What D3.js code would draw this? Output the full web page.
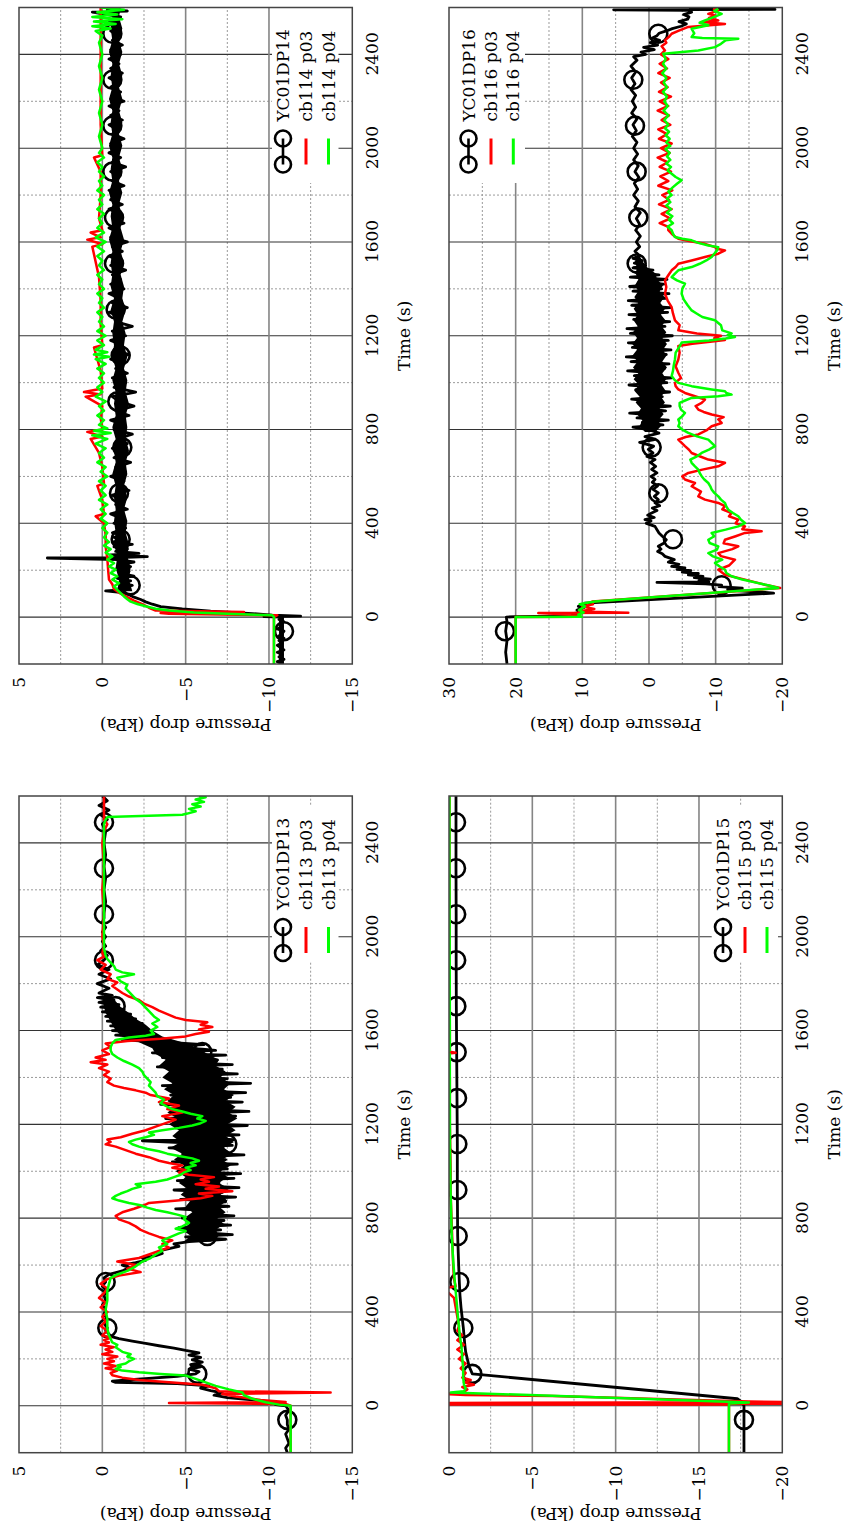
<!DOCTYPE html>
<html>
<head>
<meta charset="utf-8">
<script src="https://cdn.jsdelivr.net/npm/d3@7"></script>
<style>
html, body { margin: 0; padding: 0; background: #fff; }
svg { display: block; }
text { font-family: "DejaVu Serif", serif; font-size: 17px; fill: #000; }
</style>
</head>
<body>
<svg id="fig" width="847" height="1530"></svg>
<script>
// ---------- shared axis values ----------
const timeDomain = [-200, 2600];
const timeTicks = [0, 400, 800, 1200, 1600, 2000, 2400];
const timeMinor = [200, 600, 1000, 1400, 1800, 2200];

const ticksA = [-15, -10, -5, 0, 5];
const minorA = [-12.5, -7.5, -2.5, 2.5];
const ticksB = [-20, -15, -10, -5, 0];
const minorB = [-17.5, -12.5, -7.5, -2.5];
const ticksD = [-20, -10, 0, 10, 20, 30];
const minorD = [-15, -5, 5, 15, 25];

// ---------- YC01DP13 / cb113 ----------
const dp13Black = [
[-200,-11.1],[-180,-11.0],[-160,-11.2],[-140,-11.1],[-120,-11.0],[-100,-11.2],[-80,-11.1],[-60,-11.1],[-40,-11.0],[-20,-11.2],[0,-11.0],
[5,-10.4],[15,-10.2],[25,-9.0],[35,-7.5],[45,-6.7],[55,-7.2],[65,-6.5],[75,-5.9],[85,-6.4],[95,-4.5],[100,-0.8],[105,-0.6],[110,-1.5],
[118,-3.0],[126,-4.5],[136,-5.6],[146,-5.8],[156,-5.2],[166,-5.9],[176,-5.3],[186,-6.0],[196,-5.4],[206,-5.9],[216,-5.2],[226,-5.8],
[236,-5.0],[246,-4.3],[256,-3.4],[266,-2.6],[276,-1.8],[286,-1.0],[296,-0.5],[306,-0.4],[320,-0.2],[332,-0.3],[350,-0.1],[370,-0.3],
[390,-0.1],[410,-0.2],[430,0.0],[450,-0.2],[470,-0.1],[490,-0.3],[510,0.0],[528,-0.2],[545,-0.1],[560,-0.4],[575,-1.2],[590,-1.6],
[600,-1.2],[610,-2.0],[620,-2.6],[630,-2.4],[640,-3.2],[650,-3.6],[660,-3.4],[670,-4.0],[680,-4.6],[690,-4.3],
[700,-5.2],[710,-7.4],[720,-5.0],[730,-7.8],[740,-5.6],[750,-7.1],[760,-4.6],[770,-7.7],[780,-5.3],[790,-7.3],[800,-4.8],[810,-7.9],
[820,-5.5],[830,-6.9],[840,-4.4],[850,-7.6],[860,-5.8],[870,-7.4],[880,-4.7],[890,-8.0],[900,-5.1],[910,-7.2],[920,-4.3],[930,-8.2],
[940,-5.6],[950,-7.0],[960,-4.5],[970,-7.9],[980,-5.2],[990,-8.3],[1000,-4.6],[1010,-7.5],[1020,-5.0],[1030,-8.1],[1040,-4.2],[1050,-7.4],
[1060,-5.5],[1070,-8.5],[1080,-4.8],[1090,-7.1],[1100,-4.0],[1110,-7.8],[1120,-5.3],[1130,-2.4],[1135,-7.9],[1145,-4.6],[1155,-8.2],
[1165,-5.1],[1175,-7.3],[1185,-4.4],[1195,-8.7],[1205,-5.0],[1215,-7.6],[1225,-3.8],[1235,-8.0],[1245,-4.9],[1255,-8.8],[1265,-5.4],
[1275,-7.2],[1285,-3.5],[1295,-8.4],[1305,-4.7],[1315,-7.7],[1325,-4.1],[1335,-8.6],[1345,-5.2],[1355,-7.0],[1365,-3.6],[1375,-8.9],
[1385,-4.5],[1395,-7.5],[1405,-3.9],[1415,-8.1],[1425,-4.8],[1435,-7.2],[1445,-3.3],[1455,-7.8],[1465,-4.2],[1475,-6.9],[1485,-3.6],
[1495,-7.4],[1505,-3.0],[1515,-6.8],[1521,-6.0],[1530,-3.4],[1540,-6.1],[1550,-3.8],[1560,-1.2],[1570,-3.3],[1580,-0.8],[1590,-2.9],
[1600,-0.6],[1610,-2.6],[1620,-0.5],[1630,-2.4],[1640,-0.3],[1650,-2.0],[1660,-0.2],[1670,-1.7],[1680,0.0],[1690,-1.3],[1700,0.1],
[1710,-1.0],[1720,0.2],[1730,-0.7],[1740,0.3],[1750,-0.6],[1760,0.2],[1780,-0.4],[1800,0.3],[1820,-0.5],[1840,0.2],[1860,-0.4],
[1880,0.3],[1900,-0.1],[1920,-0.3],[1940,0.1],[1960,-0.2],[1980,0.0],[2000,-0.2],[2020,0.0],[2040,-0.2],[2060,0.0],[2080,-0.1],
[2100,-0.1],[2150,-0.2],[2200,-0.1],[2250,-0.2],[2300,-0.1],[2350,-0.2],[2400,-0.1],[2450,-0.2],[2480,0.0],[2500,-0.3],[2520,0.1],
[2540,-0.4],[2560,0.2],[2580,-0.3],[2600,0.0]
];
// dense core of the fluctuating YC01DP13 signal: [time, upper, lower]
const dp13BlackBand = [[
[700,-4.9,-6.5],[725,-5.3,-7.0],[750,-4.8,-6.8],[775,-5.2,-7.3],[800,-4.9,-6.9],[825,-5.4,-7.4],[850,-5.0,-7.0],[875,-5.3,-7.5],
[900,-4.7,-7.1],[925,-5.1,-7.6],[950,-4.6,-7.0],[975,-5.0,-7.5],[1000,-4.4,-7.1],[1025,-4.9,-7.7],[1050,-4.3,-7.2],[1075,-4.8,-7.8],
[1100,-4.1,-7.3],[1125,-4.7,-7.9],[1150,-4.2,-7.4],[1175,-4.6,-8.0],[1200,-4.0,-7.5],[1225,-4.5,-8.1],[1250,-3.9,-7.6],[1275,-4.4,-8.0],
[1300,-3.9,-7.4],[1325,-4.3,-7.9],[1350,-3.7,-7.3],[1375,-4.2,-7.7],[1400,-3.6,-7.1],[1425,-4.0,-7.4],[1450,-3.4,-6.8],[1475,-3.8,-7.0],
[1500,-3.2,-6.3],[1525,-3.0,-5.8],[1550,-2.2,-4.8],[1575,-1.2,-3.6],[1600,-0.8,-3.0],[1625,-0.6,-2.6],[1650,-0.4,-2.0],[1675,-0.2,-1.6],
[1700,-0.1,-1.1],[1725,0.0,-0.8],[1750,-0.1,-0.5]
]];
const dp13Marks = [[-60,-11.1],[136,-5.7],[332,-0.3],[528,-0.2],[724,-6.3],[920,-6.4],[1116,-7.5],[1312,-6.2],[1508,-6.0],[1704,-0.8],[1900,-0.1],[2096,-0.1],[2292,-0.1],[2488,-0.1]];
const dp13Red = [
[-200,-11.3],[-100,-11.3],[0,-11.3],[8,-11.0],[12,-4.0],[16,-11.0],[25,-9.5],[40,-8.0],[50,-7.2],[57,-13.7],[62,-7.0],[75,-6.8],
[90,-6.0],[100,-4.0],[110,-2.2],[120,-1.2],[130,-0.6],[140,-0.5],[150,-0.9],[160,-0.2],[170,-0.8],[180,-0.1],[190,-0.7],[200,-0.3],
[210,-0.9],[220,0.0],[230,-0.6],[240,-0.2],[250,-0.7],[260,0.1],[270,-0.4],[280,-0.1],[290,-0.5],[300,0.0],[320,-0.3],[340,0.1],
[360,-0.2],[380,0.0],[400,-0.3],[420,0.1],[440,-0.2],[460,0.2],[480,-0.1],[500,-0.3],[520,0.1],[540,-0.3],[555,-1.0],[570,-2.3],
[585,-1.5],[600,-2.0],[615,-0.9],[630,-2.2],[645,-2.8],[660,-3.4],[675,-4.0],[690,-3.6],[705,-4.2],[720,-3.4],[735,-2.8],[750,-2.3],
[765,-2.0],[780,-1.6],[795,-1.0],[810,-0.8],[825,-1.2],[840,-1.9],[855,-2.5],[865,-2.8],[875,-4.5],[885,-5.9],[895,-6.6],[905,-5.8],
[915,-7.8],[925,-6.2],[935,-7.0],[945,-5.6],[955,-6.4],[965,-5.9],[975,-6.7],[985,-5.2],[995,-4.6],[1005,-5.0],[1015,-4.2],[1025,-4.8],
[1035,-4.0],[1045,-3.4],[1060,-2.8],[1075,-2.0],[1090,-1.4],[1105,-0.8],[1115,-0.2],[1125,-0.5],[1135,-0.3],[1145,-1.1],[1160,-1.8],
[1175,-2.6],[1190,-3.2],[1205,-3.8],[1220,-4.4],[1235,-3.6],[1250,-4.8],[1265,-3.9],[1280,-4.6],[1295,-3.4],[1310,-4.0],[1325,-2.9],
[1335,-2.6],[1345,-2.0],[1355,-1.3],[1365,-0.7],[1380,-0.3],[1395,-0.5],[1410,-0.1],[1425,-0.4],[1440,0.2],[1455,-0.3],[1465,0.7],
[1475,-0.2],[1485,0.4],[1500,-0.4],[1515,0.0],[1530,-0.5],[1545,-0.2],[1555,-1.5],[1565,-3.5],[1575,-5.0],[1585,-5.6],[1595,-6.4],
[1605,-5.8],[1615,-6.6],[1625,-5.9],[1635,-6.3],[1645,-5.0],[1655,-4.4],[1670,-3.9],[1685,-3.4],[1700,-3.0],[1715,-2.5],[1730,-2.2],
[1745,-1.6],[1760,-1.2],[1775,-0.9],[1790,-0.6],[1805,-0.9],[1820,-0.3],[1840,-0.5],[1860,0.1],[1880,-0.2],[1900,0.3],[1915,-0.1],
[1930,0.0],[1960,-0.1],[2000,0.0],[2100,-0.1],[2200,0.0],[2300,-0.1],[2400,0.0],[2450,-0.1],[2480,-0.3],[2500,-0.1],[2550,-0.1],[2600,-0.1]
];
const dp13Green = [
[-200,-11.3],[0,-11.3],[5,-10.6],[15,-9.8],[30,-9.0],[45,-8.5],[57,-8.4],[70,-7.6],[85,-6.8],[100,-6.2],[115,-5.6],[129,-5.0],
[136,-3.5],[143,-2.2],[150,-1.2],[157,-0.8],[165,-1.1],[172,-0.9],[180,-1.4],[190,-1.6],[200,-1.9],[210,-1.5],[220,-1.7],[230,-1.2],
[240,-1.0],[250,-0.8],[260,-0.9],[270,-0.6],[285,-0.5],[300,-0.4],[330,-0.3],[370,-0.3],[410,-0.2],[450,-0.3],[490,-0.3],[520,-0.4],
[545,-0.5],[560,-0.9],[575,-1.5],[590,-1.9],[605,-2.2],[615,-2.4],[630,-2.9],[645,-3.2],[660,-3.6],[675,-3.4],[690,-3.9],[705,-3.6],
[720,-4.1],[735,-4.6],[745,-5.0],[755,-4.4],[765,-4.8],[780,-5.2],[795,-4.9],[805,-5.0],[815,-4.5],[825,-3.9],[835,-3.2],[845,-2.7],
[855,-2.3],[865,-1.6],[875,-1.0],[885,-0.6],[895,-0.8],[905,-1.1],[915,-1.5],[925,-1.8],[935,-2.3],[945,-2.0],[955,-3.2],[965,-3.9],
[975,-4.3],[985,-4.7],[995,-4.9],[1005,-5.3],[1015,-5.0],[1025,-5.6],[1035,-5.3],[1045,-5.8],[1055,-5.4],[1065,-4.6],[1075,-3.9],
[1085,-3.4],[1095,-2.7],[1105,-2.2],[1115,-1.8],[1125,-1.6],[1135,-2.0],[1145,-2.6],[1155,-3.1],[1165,-2.8],[1175,-3.6],[1185,-4.6],
[1195,-5.4],[1205,-5.9],[1215,-6.2],[1225,-5.7],[1235,-6.0],[1245,-5.3],[1255,-4.8],[1265,-4.2],[1275,-3.9],[1290,-3.5],[1305,-3.7],
[1320,-3.3],[1335,-3.2],[1350,-3.0],[1365,-2.8],[1380,-2.9],[1395,-2.7],[1410,-2.5],[1425,-2.4],[1440,-2.2],[1455,-1.8],[1470,-1.3],
[1485,-0.9],[1500,-0.6],[1515,-0.5],[1530,-0.5],[1545,-0.6],[1560,-0.8],[1570,-1.6],[1578,-2.6],[1585,-3.1],[1600,-2.9],[1615,-3.3],
[1630,-3.0],[1645,-3.4],[1660,-3.1],[1675,-2.9],[1690,-2.7],[1705,-2.5],[1720,-2.3],[1735,-2.0],[1750,-1.8],[1765,-1.6],[1780,-1.4],
[1795,-1.5],[1810,-1.1],[1825,-0.9],[1840,-1.9],[1848,-1.2],[1860,-0.8],[1875,-0.7],[1890,-0.5],[1905,-0.3],[1920,-0.2],[1950,-0.1],
[2000,-0.1],[2100,-0.1],[2200,-0.1],[2300,-0.1],[2400,-0.1],[2480,-0.1],[2500,-0.2],[2510,-0.3],[2520,-4.8],[2525,-5.1],[2535,-5.6],
[2545,-5.2],[2555,-5.9],[2565,-5.4],[2575,-6.1],[2585,-5.6],[2595,-6.2],[2600,-5.8]
];

// ---------- YC01DP14 / cb114 ----------
const dp14Black = [
[-200,-10.8],[-190,-10.5],[-180,-10.9],[-170,-10.6],[-160,-10.8],[-150,-10.5],[-140,-10.9],[-130,-10.7],[-120,-10.5],[-110,-10.8],
[-100,-10.6],[-90,-10.9],[-80,-10.6],[-70,-10.8],[-60,-10.9],[-50,-10.5],[-40,-10.8],[-30,-10.6],[-20,-10.9],[-10,-10.6],[0,-10.8],
[2,-9.7],[4,-11.9],[8,-10.2],[15,-9.0],[25,-6.5],[35,-4.8],[45,-3.5],[55,-3.0],[65,-2.6],[75,-2.3],[85,-1.9],[95,-1.6],[105,-1.2],
[112,-0.2],[118,-1.6],[125,-1.0],[135,-1.8],[145,-1.1],[155,-1.7],[165,-0.9],[175,-1.9],[185,-1.2],[195,-1.6],[205,-0.8],[215,-1.7],
[225,-1.1],[235,-1.9],[245,-0.9],[252,3.3],[254,-1.0],[258,-2.7],[265,-0.5],[272,-2.2],[280,-0.8],[290,-1.5],[300,-0.7],[310,-1.8],
[320,-0.6],[330,-1.3],[340,-0.7],[350,-1.2],[360,-0.6],[380,-1.4],[400,-0.7],[420,-1.2],[440,-0.5],[460,-1.5],[480,-0.8],[500,-1.1],
[520,-0.6],[540,-1.6],[560,-0.9],[580,-1.3],[600,-0.5],[620,-1.4],[640,-0.8],[660,-1.7],[680,-0.7],[700,-1.2],[720,-0.6],[740,-1.5],
[760,-0.9],[780,-1.8],[800,-0.7],[820,-1.3],[840,-0.5],[860,-1.6],[880,-0.8],[900,-1.9],[920,-1.0],[940,-0.6],[960,-2.0],[980,-0.7],
[1000,-1.4],[1020,-0.6],[1040,-1.5],[1060,-0.8],[1080,-1.3],[1100,-0.5],[1120,-1.6],[1140,-0.7],[1160,-1.2],[1180,-0.5],[1200,-1.4],
[1220,-0.6],[1240,-1.8],[1260,-0.8],[1280,-1.1],[1300,-0.4],[1320,-1.5],[1340,-0.6],[1360,-1.0],[1380,-0.4],[1400,-1.3],[1420,-0.5],
[1440,-1.1],[1460,-0.6],[1480,-1.4],[1500,-0.5],[1520,-1.0],[1540,-0.4],[1560,-1.2],[1580,-0.6],[1600,-1.5],[1620,-0.5],[1640,-1.0],
[1660,-0.4],[1680,-1.3],[1700,-0.7],[1720,-1.1],[1740,-0.4],[1760,-1.2],[1780,-0.5],[1800,-0.9],[1820,-0.4],[1840,-1.3],[1860,-0.6],
[1880,-1.0],[1900,-0.5],[1920,-1.4],[1940,-0.6],[1960,-1.1],[1980,-0.4],[2000,-1.0],[2020,-0.5],[2040,-1.3],[2060,-0.6],[2080,-0.9],
[2100,-0.4],[2120,-1.2],[2140,-0.5],[2160,-1.0],[2180,-0.4],[2200,-1.3],[2220,-0.6],[2240,-1.1],[2260,-0.5],[2280,-0.9],[2300,-0.4],
[2320,-1.2],[2340,-0.5],[2360,-1.0],[2380,-0.4],[2400,-1.1],[2420,-0.5],[2440,-1.2],[2460,-0.6],[2480,-0.9],[2500,-0.5],[2520,-1.0],
[2540,-0.4],[2560,-1.1],[2580,0.6],[2585,-1.5],[2590,-0.3],[2600,-0.8]
];
const dp14BlackBand = [
[[-200,-10.6,-10.9],[0,-10.6,-10.9]],
[[110,-0.9,-1.8],[160,-1.0,-1.6],[210,-0.8,-1.7],[260,-0.9,-1.5],[310,-0.7,-1.6],[360,-0.8,-1.4],[410,-0.7,-1.5],[460,-0.8,-1.3],
 [510,-0.7,-1.5],[560,-0.8,-1.3],[610,-0.6,-1.5],[660,-0.8,-1.4],[710,-0.7,-1.6],[760,-0.8,-1.4],[810,-0.6,-1.5],[860,-0.8,-1.4],
 [910,-0.7,-1.6],[960,-0.8,-1.4],[1010,-0.6,-1.5],[1060,-0.8,-1.3],[1110,-0.6,-1.5],[1160,-0.7,-1.3],[1210,-0.6,-1.4],[1260,-0.7,-1.2],
 [1310,-0.5,-1.4],[1360,-0.7,-1.2],[1410,-0.5,-1.3],[1460,-0.6,-1.1],[1510,-0.5,-1.3],[1560,-0.6,-1.1],[1610,-0.4,-1.3],[1660,-0.6,-1.1],
 [1710,-0.5,-1.2],[1760,-0.6,-1.0],[1810,-0.4,-1.2],[1860,-0.6,-1.0],[1910,-0.5,-1.2],[1960,-0.6,-1.0],[2010,-0.4,-1.2],[2060,-0.6,-1.0],
 [2110,-0.5,-1.2],[2160,-0.6,-1.0],[2210,-0.4,-1.2],[2260,-0.6,-1.0],[2310,-0.5,-1.2],[2360,-0.6,-1.0],[2410,-0.4,-1.2],[2460,-0.6,-1.0],
 [2510,-0.5,-1.2],[2560,-0.6,-1.0],[2600,-0.5,-1.1]]
];
const dp14Marks = [[-60,-10.9],[136,-1.7],[332,-1.1],[528,-1.0],[724,-1.2],[920,-0.9],[1116,-1.1],[1312,-0.8],[1508,-0.7],[1704,-0.7],[1900,-0.6],[2096,-0.6],[2292,-0.6],[2488,-0.6]];
const dp14Red = [
[-200,-10.3],[0,-10.3],[8,-10.5],[14,-4.0],[17,-3.5],[22,-8.5],[28,-3.2],[40,-2.8],[55,-2.4],[70,-1.9],[85,-1.5],[100,-1.1],[120,-0.7],
[140,-0.6],[160,-0.4],[200,-0.35],[250,-0.3],[300,-0.2],[350,-0.2],[400,-0.1],[430,0.4],[440,-0.1],[500,0.0],[560,0.3],[570,-0.1],
[640,0.0],[700,0.2],[760,0.7],[770,0.0],[790,0.9],[800,0.0],[850,0.1],[900,0.0],[940,1.0],[950,0.1],[960,1.1],[975,0.0],[1050,0.1],
[1150,0.5],[1160,0.0],[1250,0.1],[1350,0.1],[1450,0.2],[1580,0.6],[1590,0.0],[1610,0.9],[1620,0.1],[1640,0.7],[1650,0.0],[1700,0.2],
[1800,0.1],[1900,0.1],[1960,0.5],[1970,0.0],[2100,0.1],[2300,0.1],[2500,0.1],[2600,0.1]
];
const dp14Green = [
[-200,-10.3],[-100,-10.3],[0,-10.3],[8,-10.2],[14,-7.5],[20,-5.5],[28,-4.0],[36,-3.2],[46,-2.6],[56,-2.1],[66,-1.7],[76,-1.5],
[88,-1.3],[102,-1.1],[116,-0.9],[131,-0.7],[145,-1.0],[160,-0.6],[174,-0.9],[188,-0.5],[202,-0.8],[216,-0.4],[230,-0.7],[245,-0.3],
[259,-0.6],[275,-0.2],[290,-0.5],[305,-0.1],[320,-0.4],[340,-0.1],[360,-0.3],[380,0.0],[400,-0.3],[420,0.1],[440,-0.2],[460,0.1],
[480,-0.3],[500,0.2],[520,-0.2],[540,0.1],[560,-0.2],[580,0.2],[600,-0.3],[620,0.1],[640,-0.2],[660,0.3],[680,-0.1],[700,0.2],
[720,-0.2],[740,0.4],[760,-0.3],[775,0.6],[785,-0.5],[795,0.5],[805,-0.3],[820,0.2],[840,-0.1],[860,0.3],[880,-0.1],[900,0.2],
[920,-0.2],[940,0.4],[960,0.0],[980,0.3],[1000,-0.1],[1020,0.2],[1040,-0.1],[1060,0.3],[1080,-0.2],[1100,0.4],[1110,-0.4],[1120,0.5],
[1130,-0.3],[1140,0.4],[1160,-0.1],[1180,0.3],[1200,-0.2],[1220,0.3],[1240,-0.1],[1260,0.2],[1280,0.0],[1300,0.3],[1320,-0.1],
[1340,0.2],[1360,0.0],[1380,0.3],[1400,-0.1],[1420,0.2],[1440,0.0],[1460,0.3],[1480,-0.1],[1500,0.2],[1520,0.0],[1540,0.3],
[1560,-0.1],[1580,0.3],[1600,-0.2],[1620,0.4],[1640,-0.1],[1660,0.3],[1680,0.0],[1700,0.2],[1720,-0.1],[1740,0.3],[1760,0.0],
[1780,0.2],[1800,-0.1],[1820,0.3],[1840,0.0],[1860,0.2],[1880,-0.1],[1900,0.2],[1920,0.0],[1940,0.3],[1960,-0.1],[1980,0.2],
[2000,0.0],[2050,0.2],[2100,0.0],[2150,0.2],[2200,0.0],[2250,0.2],[2300,0.0],[2350,0.2],[2400,0.0],[2450,0.2],[2480,0.0],[2500,0.4],
[2510,-0.5],[2520,0.6],[2530,-0.8],[2540,0.5],[2550,-1.2],[2560,0.6],[2570,-0.9],[2580,0.3],[2590,-1.3],[2600,0.1]
];

// ---------- YC01DP15 / cb115 ----------
const dp15Black = [
[-200,-17.7],[-100,-17.7],[-60,-17.7],[0,-17.7],[15,-17.6],[30,-17.3],[136,-1.4],[170,-1.2],[200,-1.1],[230,-1.0],[260,-0.95],
[300,-0.9],[332,-0.86],[370,-0.8],[420,-0.72],[470,-0.66],[528,-0.62],[600,-0.58],[724,-0.52],[920,-0.5],[1116,-0.5],[1312,-0.48],
[1508,-0.46],[1704,-0.44],[1900,-0.43],[2096,-0.43],[2292,-0.42],[2488,-0.42],[2600,-0.42]
];
const dp15BlackBand = [];
const dp15Marks = [[-60,-17.7],[136,-1.4],[332,-0.86],[528,-0.62],[724,-0.52],[920,-0.5],[1116,-0.5],[1312,-0.48],[1508,-0.46],[1704,-0.44],[1900,-0.43],[2096,-0.43],[2292,-0.42],[2488,-0.42]];
const dp15Red = [
[-200,-16.8],[0,-16.8],[4,-16.8],[6,1.0],[9,-21],[12,1.0],[15,-21],[18,-18.0],[30,-12.0],[42,-6.2],[46,-1.0],[50,0.3],[54,-0.2],
[60,-0.9],[70,-1.1],[80,-0.8],[90,-1.5],[100,-0.9],[110,-1.3],[120,-0.8],[140,-1.0],[160,-0.7],[180,-1.0],[200,-0.6],[220,-0.9],
[240,-0.5],[260,-0.9],[280,-0.5],[300,-0.8],[320,-0.5],[340,-0.6],[380,-0.5],[420,-0.4],[460,-0.3],[500,0.3],[510,-0.4],[540,-0.3],
[600,-0.25],[700,-0.2],[800,-0.15],[900,-0.1],[1000,-0.1],[1200,-0.05],[1400,-0.05],[1500,0.2],[1505,-0.4],[1510,-0.05],[1600,-0.05],
[1800,-0.03],[1880,0.2],[1885,-0.03],[2000,-0.03],[2200,-0.03],[2400,-0.03],[2600,-0.03]
];
const dp15Green = [
[-200,-16.8],[0,-16.8],[10,-16.8],[14,-18.0],[57,-0.1],[62,-0.9],[75,-1.0],[90,-0.9],[120,-0.85],[160,-0.85],[200,-0.8],[250,-0.75],
[300,-0.65],[370,-0.55],[450,-0.45],[520,-0.36],[620,-0.25],[730,-0.16],[900,-0.1],[1100,-0.06],[1300,-0.05],[1500,-0.05],[1510,0.2],
[1515,-0.05],[1700,-0.05],[2000,-0.04],[2300,-0.03],[2600,-0.03]
];

// ---------- YC01DP16 / cb116 ----------
const dp16Black = [
[-200,21.3],[-150,21.5],[-100,21.3],[-60,21.5],[-20,21.3],[0,21.4],[2,20.0],[5,11.0],[10,10.4],[15,11.5],[20,10.2],[30,10.8],
[40,9.8],[46,10.6],[55,9.5],[60,9.6],[102,-18.7],[106,-17.0],[112,-13.5],[118,-11.8],[124,-14.0],[130,-10.5],[136,-10.9],[142,-8.5],
[148,-1.2],[150,-9.0],[156,-7.5],[162,-9.2],[168,-6.8],[174,-8.1],[180,-5.9],[186,-7.4],[192,-5.0],[198,-6.3],[204,-4.2],[210,-5.4],
[216,-3.4],[225,-4.5],[235,-2.9],[245,-3.8],[259,-2.4],[270,-2.0],[280,-1.3],[290,-1.8],[302,-1.4],[315,-2.2],[330,-2.6],[345,-2.0],
[359,-1.5],[373,-1.2],[387,-0.9],[400,0.4],[410,-0.3],[416,0.6],[425,-0.8],[435,0.2],[444,-0.4],[455,-1.2],[465,-0.5],[475,-1.6],
[487,-0.9],[501,-1.4],[515,-0.8],[530,-1.4],[545,-0.6],[560,-1.3],[575,-0.5],[587,-0.9],[600,-0.3],[615,-1.2],[630,-0.4],[643,-1.0],
[660,-0.2],[672,-0.9],[685,0.3],[700,-0.6],[715,0.1],[729,-0.7],[745,1.4],[757,-0.8],[770,0.6],[785,-1.5],[800,0.1],
[810,2.4],[820,-2.1],[830,1.0],[840,-2.9],[850,1.8],[860,-1.4],[870,2.9],[880,-2.5],[890,0.6],[900,-3.2],[910,1.5],[920,-0.4],
[930,2.6],[940,-2.0],[950,1.2],[960,-3.1],[970,2.0],[980,-1.1],[990,3.0],[1000,-2.7],[1010,0.8],[1020,-3.4],[1030,2.2],[1040,-1.6],
[1050,3.2],[1060,-2.3],[1070,1.4],[1080,-3.0],[1090,2.7],[1100,-1.3],[1110,3.4],[1120,-2.6],[1130,0.9],[1140,-3.3],[1150,2.5],
[1160,-1.8],[1170,3.1],[1180,-2.9],[1190,1.6],[1200,-3.5],[1210,2.8],[1220,-1.2],[1230,3.3],[1240,-2.4],[1250,1.1],[1260,-3.1],
[1270,2.3],[1280,-1.7],[1290,3.0],[1300,-2.8],[1310,1.9],[1320,-3.2],[1330,2.6],[1340,-1.0],[1350,3.1],[1360,-2.5],[1370,1.3],
[1380,-3.0],[1390,2.4],[1400,-1.9],[1410,2.9],[1420,-2.2],[1430,1.5],[1440,-2.7],[1450,2.8],[1460,-1.5],[1470,2.0],[1480,-0.6],
[1490,2.4],[1500,0.5],[1510,2.2],[1520,1.0],[1530,2.4],[1540,1.4],[1560,2.1],[1580,1.4],[1600,1.9],[1625,1.3],[1650,2.0],[1675,1.4],
[1700,1.9],[1725,1.3],[1750,2.1],[1775,1.6],[1800,2.3],[1825,1.7],[1850,2.2],[1875,1.5],[1900,2.1],[1925,1.6],[1950,2.3],[1975,1.7],
[2000,2.3],[2025,1.8],[2050,2.5],[2075,1.9],[2100,2.4],[2125,1.8],[2150,2.6],[2175,2.0],[2200,2.5],[2225,2.0],[2250,2.7],[2275,2.1],
[2300,2.6],[2325,2.0],[2350,2.7],[2375,1.8],[2390,2.3],[2400,0.5],[2410,1.2],[2420,-0.8],[2430,0.8],[2440,-1.3],[2450,-0.2],
[2460,-1.6],[2470,-0.5],[2480,-1.2],[2490,-1.5],[2500,-2.6],[2510,-3.5],[2520,-4.8],[2530,-5.6],[2540,-4.5],[2550,-5.8],[2560,-6.0],
[2570,-5.2],[2580,-6.4],[2588,-5.8],[2590,5.3],[2592,-18.9],[2596,-6.0]
];
const dp16BlackBand = [[
[790,0.6,-1.0],[815,1.4,-1.8],[840,1.0,-1.4],[865,1.8,-2.2],[890,1.2,-1.6],[915,2.0,-2.4],[940,1.4,-1.8],[965,2.2,-2.5],
[990,1.5,-1.9],[1015,2.3,-2.6],[1040,1.6,-2.0],[1065,2.4,-2.7],[1090,1.7,-2.0],[1115,2.5,-2.6],[1140,1.8,-2.1],[1165,2.5,-2.7],
[1190,1.8,-2.0],[1215,2.4,-2.6],[1240,1.7,-1.9],[1265,2.3,-2.5],[1290,1.7,-1.8],[1315,2.3,-2.4],[1340,1.6,-1.7],[1365,2.2,-2.3],
[1390,1.6,-1.6],[1415,2.1,-2.1],[1440,1.6,-1.2],[1465,2.0,-1.0],[1490,1.8,0.2],[1515,2.1,0.9],[1540,1.9,1.4]
]];
const dp16Marks = [[-60,21.6],[136,-10.9],[332,-3.6],[528,-1.4],[724,-0.4],[920,-0.4],[1116,0.0],[1312,0.0],[1508,1.85],[1704,1.6],[1900,1.85],[2096,2.1],[2292,2.35],[2488,-1.4]];
const dp16Red = [
[-200,20.0],[0,20.0],[2,10.5],[10,11.2],[17,16.6],[19,3.1],[24,10.5],[35,8.2],[45,10.0],[55,8.4],[67,8.5],[124,-19.7],[138,-17.4],
[160,-14.4],[181,-11.4],[202,-10.4],[220,-12.0],[245,-12.9],[260,-10.8],[273,-10.4],[290,-12.5],[302,-13.4],[315,-11.2],[330,-11.4],
[345,-13.0],[359,-14.4],[366,-16.9],[375,-14.0],[387,-14.4],[400,-13.0],[416,-13.4],[430,-12.0],[444,-12.4],[460,-11.0],[473,-11.4],
[487,-10.4],[501,-8.4],[515,-7.4],[535,-7.8],[558,-6.4],[572,-6.9],[587,-5.4],[600,-5.0],[615,-5.9],[629,-8.0],[643,-10.4],[658,-11.4],
[672,-8.9],[686,-7.6],[700,-6.4],[714,-6.0],[729,-5.4],[743,-4.9],[757,-4.4],[768,-5.5],[779,-7.4],[796,-8.6],[814,-9.4],[828,-10.9],
[843,-10.4],[853,-11.2],[864,-9.4],[875,-8.2],[885,-7.4],[900,-7.0],[914,-7.9],[928,-8.4],[942,-6.9],[956,-5.4],[971,-4.4],[985,-4.0],
[999,-3.9],[1020,-4.8],[1042,-4.4],[1070,-4.0],[1099,-4.4],[1128,-4.6],[1156,-4.4],[1166,-6.5],[1175,-9.5],[1182,-11.4],[1190,-9.8],
[1200,-10.8],[1210,-7.2],[1223,-4.4],[1245,-4.6],[1266,-3.9],[1295,-3.6],[1322,-3.4],[1350,-2.8],[1379,-2.4],[1408,-2.6],[1436,-2.4],
[1458,-2.9],[1479,-3.4],[1493,-4.0],[1507,-4.4],[1521,-6.4],[1536,-8.4],[1550,-10.4],[1564,-11.4],[1571,-10.2],[1578,-9.9],[1592,-8.4],
[1603,-6.2],[1614,-4.4],[1625,-3.8],[1635,-3.4],[1650,-2.9],[1664,-2.9],[1680,-1.6],[1700,-3.2],[1720,-1.9],[1740,-3.4],[1760,-1.5],
[1780,-3.0],[1800,-2.0],[1820,-3.5],[1840,-1.4],[1860,-2.9],[1880,-1.7],[1900,-3.3],[1920,-1.6],[1940,-2.8],[1960,-1.3],[1980,-3.1],
[2000,-1.8],[2020,-3.4],[2040,-1.5],[2060,-2.7],[2080,-1.4],[2100,-3.2],[2120,-1.9],[2140,-3.0],[2160,-1.3],[2180,-2.9],[2200,-1.6],
[2220,-3.3],[2240,-1.5],[2260,-2.8],[2280,-1.8],[2300,-3.1],[2320,-1.4],[2340,-2.7],[2360,-1.6],[2380,-2.9],[2400,-1.8],[2417,-2.4],
[2435,-1.9],[2450,-2.6],[2460,-2.4],[2475,-3.0],[2488,-3.4],[2500,-4.4],[2517,-5.9],[2530,-11.4],[2538,-8.0],[2545,-10.4],[2555,-9.0],
[2565,-10.0],[2573,-8.9],[2588,-10.4],[2595,-9.6]
];
const dp16Green = [
[-200,20.0],[0,20.0],[1,10.1],[10,10.6],[20,9.8],[30,10.5],[46,9.6],[55,10.4],[60,9.5],[67,8.1],[124,-19.4],[135,-18.0],[145,-16.4],
[160,-14.0],[174,-12.4],[188,-11.6],[202,-11.4],[216,-10.6],[231,-9.9],[245,-11.0],[259,-9.6],[273,-8.9],[288,-10.2],[302,-10.4],
[316,-9.1],[330,-8.9],[345,-9.8],[359,-9.4],[373,-11.5],[387,-13.4],[401,-14.4],[415,-13.8],[430,-13.4],[444,-12.6],[458,-11.9],
[472,-11.6],[487,-11.4],[501,-10.8],[515,-10.4],[530,-9.8],[544,-9.4],[558,-9.2],[572,-8.9],[587,-8.3],[601,-7.9],[615,-7.6],
[629,-7.4],[643,-6.9],[658,-6.4],[672,-6.2],[686,-7.2],[700,-7.9],[714,-9.0],[729,-9.9],[743,-9.4],[757,-8.9],[771,-7.2],[786,-5.9],
[800,-5.0],[814,-4.4],[828,-4.6],[843,-4.4],[857,-5.0],[871,-5.4],[885,-4.8],[900,-4.6],[914,-4.6],[925,-5.5],[935,-6.4],[942,-10.4],
[949,-12.4],[956,-11.6],[963,-11.4],[971,-9.4],[978,-7.8],[985,-6.4],[999,-4.4],[1013,-3.8],[1028,-3.4],[1050,-3.6],[1071,-3.7],
[1100,-3.9],[1128,-4.0],[1150,-4.5],[1171,-4.9],[1180,-9.0],[1188,-11.5],[1195,-12.9],[1203,-11.8],[1210,-12.4],[1223,-11.0],
[1245,-10.8],[1266,-9.9],[1280,-8.0],[1294,-7.2],[1308,-6.4],[1330,-5.8],[1355,-5.2],[1379,-4.9],[1400,-5.0],[1422,-5.4],[1436,-4.2],
[1450,-3.4],[1465,-3.9],[1479,-4.4],[1493,-6.4],[1507,-7.6],[1521,-8.6],[1536,-9.4],[1550,-9.8],[1564,-10.2],[1578,-10.4],[1585,-8.9],
[1596,-7.4],[1607,-6.4],[1614,-5.0],[1621,-3.9],[1635,-3.6],[1650,-3.4],[1665,-2.8],[1680,-3.6],[1695,-3.0],[1710,-3.5],[1725,-2.7],
[1740,-3.3],[1755,-2.6],[1770,-3.2],[1785,-2.7],[1800,-3.4],[1815,-2.9],[1834,-3.6],[1848,-4.2],[1863,-4.9],[1877,-4.0],[1891,-3.4],
[1905,-2.8],[1920,-3.3],[1935,-2.6],[1950,-3.2],[1965,-2.7],[1980,-3.1],[1995,-2.5],[2010,-3.2],[2025,-2.6],[2040,-3.1],[2055,-2.5],
[2070,-3.0],[2085,-2.4],[2100,-2.9],[2120,-2.3],[2140,-2.9],[2160,-2.2],[2180,-2.8],[2200,-2.3],[2220,-2.7],[2240,-2.1],[2260,-2.7],
[2280,-2.2],[2300,-2.6],[2320,-2.0],[2340,-2.6],[2360,-2.1],[2380,-2.5],[2403,-2.15],[2410,-5.0],[2417,-7.4],[2431,-9.9],[2445,-10.8],
[2460,-11.5],[2467,-13.4],[2470,-8.0],[2474,-6.4],[2490,-6.8],[2509,-6.4],[2524,-8.9],[2535,-7.6],[2545,-8.4],[2560,-9.8],[2573,-10.9],
[2585,-9.8],[2595,-10.4]
];

// ---------- panel layout (landscape page, turned a quarter for portrait display) ----------
const panels = [
  { x0: 77.3, x1: 734, y0: 19, y1: 352.3, pDomain: [-15, 5], ticks: ticksA, minor: minorA,
    names: ["YC01DP13", "cb113 p03", "cb113 p04"], black: dp13Black, band: dp13BlackBand, marks: dp13Marks, red: dp13Red, green: dp13Green,
    rows: [283, 306, 328.5], box: [568, 725, 272, 338.5] },
  { x0: 866, x1: 1522.5, y0: 19, y1: 352.3, pDomain: [-15, 5], ticks: ticksA, minor: minorA,
    names: ["YC01DP14", "cb114 p03", "cb114 p04"], black: dp14Black, band: dp14BlackBand, marks: dp14Marks, red: dp14Red, green: dp14Green,
    rows: [283, 306, 328.5], box: [1347, 1522.5, 272, 338.5] },
  { x0: 77.3, x1: 734, y0: 449, y1: 782.3, pDomain: [-20, 0], ticks: ticksB, minor: minorB,
    names: ["YC01DP15", "cb115 p03", "cb115 p04"], black: dp15Black, band: dp15BlackBand, marks: dp15Marks, red: dp15Red, green: dp15Green,
    rows: [723, 745, 767], box: [568, 725, 711.7, 778] },
  { x0: 866, x1: 1522.5, y0: 449, y1: 782.3, pDomain: [-20, 30], ticks: ticksD, minor: minorD,
    names: ["YC01DP16", "cb116 p03", "cb116 p04"], black: dp16Black, band: dp16BlackBand, marks: dp16Marks, red: dp16Red, green: dp16Green,
    rows: [468.5, 491, 513.3], box: [1347, 1522.5, 449, 525] }
];

const svg = d3.select("#fig");
const defs = svg.append("defs");
const page = svg.append("g").attr("transform", "translate(0,1530) rotate(-90)");

panels.forEach((P, i) => {
  const x = d3.scaleLinear().domain(timeDomain).range([P.x0, P.x1]);
  const y = d3.scaleLinear().domain(P.pDomain).range([P.y1, P.y0]);
  const g = page.append("g");

  defs.append("clipPath").attr("id", "plot" + i)
    .append("rect").attr("x", P.x0).attr("y", P.y0)
    .attr("width", P.x1 - P.x0).attr("height", P.y1 - P.y0);

  // dotted minor grid
  const grid = g.append("g");
  grid.selectAll(".tmin").data(timeMinor).join("line")
    .attr("x1", d => x(d)).attr("x2", d => x(d)).attr("y1", P.y0).attr("y2", P.y1)
    .attr("stroke", "#9a9a9a").attr("stroke-width", 1).attr("stroke-dasharray", "2,2");
  grid.selectAll(".pmin").data(P.minor).join("line")
    .attr("x1", P.x0).attr("x2", P.x1).attr("y1", d => y(d)).attr("y2", d => y(d))
    .attr("stroke", "#9a9a9a").attr("stroke-width", 1).attr("stroke-dasharray", "2,2");
  // solid major grid
  grid.selectAll(".tmaj").data(timeTicks).join("line")
    .attr("x1", d => x(d)).attr("x2", d => x(d)).attr("y1", P.y0).attr("y2", P.y1)
    .attr("stroke", "#333").attr("stroke-width", 1.1);
  grid.selectAll(".pmaj").data(P.ticks.filter(v => v > P.pDomain[0] && v < P.pDomain[1])).join("line")
    .attr("x1", P.x0).attr("x2", P.x1).attr("y1", d => y(d)).attr("y2", d => y(d))
    .attr("stroke", "#858585").attr("stroke-width", 1.6);

  // key background
  g.append("rect").attr("x", P.box[0]).attr("y", P.box[2])
    .attr("width", P.box[1] - P.box[0]).attr("height", P.box[3] - P.box[2]).attr("fill", "#fff");

  // series
  const line = d3.line().x(d => x(d[0])).y(d => y(d[1]));
  const area = d3.area().x(d => x(d[0])).y0(d => y(d[2])).y1(d => y(d[1]));
  const data = g.append("g").attr("clip-path", `url(#plot${i})`);
  data.selectAll(".band").data(P.band).join("path")
    .attr("d", area).attr("fill", "#000");
  data.append("path").datum(P.black).attr("d", line).attr("fill", "none")
    .attr("stroke", "#000").attr("stroke-width", 2.8).attr("stroke-linejoin", "round");
  data.selectAll("circle").data(P.marks).join("circle")
    .attr("cx", d => x(d[0])).attr("cy", d => y(d[1])).attr("r", 9)
    .attr("fill", "none").attr("stroke", "#000").attr("stroke-width", 2.6);
  data.append("path").datum(P.red).attr("d", line).attr("fill", "none")
    .attr("stroke", "#ff0000").attr("stroke-width", 2.5).attr("stroke-linejoin", "round");
  data.append("path").datum(P.green).attr("d", line).attr("fill", "none")
    .attr("stroke", "#00ff00").attr("stroke-width", 2.5).attr("stroke-linejoin", "round");

  // frame
  g.append("rect").attr("x", P.x0).attr("y", P.y0)
    .attr("width", P.x1 - P.x0).attr("height", P.y1 - P.y0)
    .attr("fill", "none").attr("stroke", "#444").attr("stroke-width", 1.5);

  // axes
  const ya = g.append("g").attr("transform", `translate(${P.x0},0)`)
    .call(d3.axisLeft(y).tickValues(P.ticks).tickSize(0).tickPadding(13).tickFormat(d3.format("d")));
  ya.select(".domain").remove();
  const xa = g.append("g").attr("transform", `translate(0,${P.y1})`)
    .call(d3.axisBottom(x).tickValues(timeTicks).tickSize(0).tickPadding(14).tickFormat(d3.format("d")));
  xa.select(".domain").remove();

  g.append("text").attr("x", (P.x0 + P.x1) / 2).attr("y", P.y1 + 57.7)
    .attr("text-anchor", "middle").text("Time (s)");
  g.append("text")
    .attr("transform", `translate(${P.x0 - 61},${(P.y0 + P.y1) / 2}) rotate(-90)`)
    .attr("text-anchor", "middle").attr("dominant-baseline", "central")
    .text("Pressure drop (kPa)");

  // key
  const s0 = P.x1 - 157, s1 = P.x1 - 131, tx = P.x1 - 114;
  const key = g.append("g");
  key.append("line").attr("x1", s0).attr("x2", s1).attr("y1", P.rows[0]).attr("y2", P.rows[0])
    .attr("stroke", "#000").attr("stroke-width", 2.6);
  key.selectAll("circle").data([s0, s1]).join("circle")
    .attr("cx", d => d).attr("cy", P.rows[0]).attr("r", 8)
    .attr("fill", "none").attr("stroke", "#000").attr("stroke-width", 2.6);
  key.append("line").attr("x1", s0).attr("x2", s1).attr("y1", P.rows[1]).attr("y2", P.rows[1])
    .attr("stroke", "#ff0000").attr("stroke-width", 3);
  key.append("line").attr("x1", s0).attr("x2", s1).attr("y1", P.rows[2]).attr("y2", P.rows[2])
    .attr("stroke", "#00ff00").attr("stroke-width", 3);
  key.selectAll("text").data(P.names).join("text")
    .attr("x", tx).attr("y", (d, k) => P.rows[k])
    .attr("dominant-baseline", "central").text(d => d);
});
</script>
</body>
</html>
